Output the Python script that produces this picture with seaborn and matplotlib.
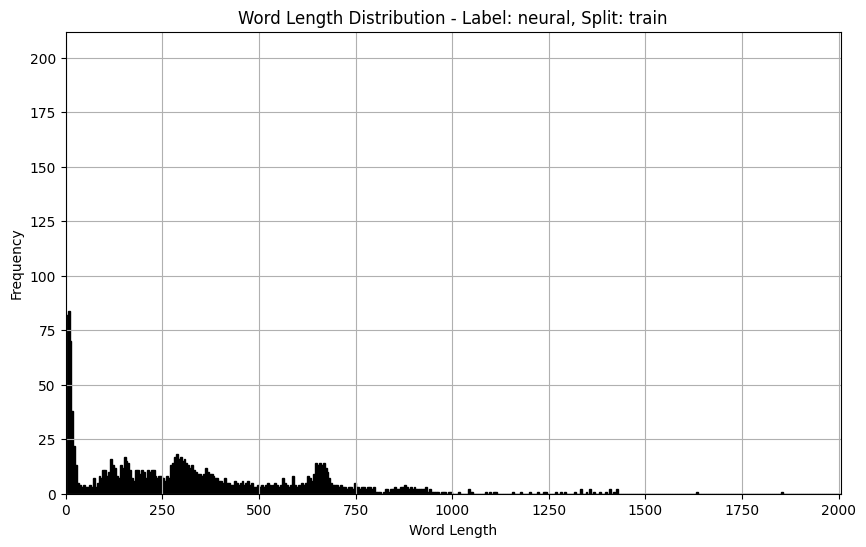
import seaborn as sns
import matplotlib.pyplot as plt
import pandas as pd
import numpy as np

# --- Histogram counts (5-word bins, 0..1000) ---
bin_width = 5
counts_0_100 = [82, 84, 70, 38, 22, 13, 5, 4, 3, 4, 3, 3, 4, 3, 7, 3, 5, 8, 7, 11]
counts_100_200 = [11, 8, 10, 16, 13, 12, 8, 7, 13, 12, 17, 15, 14, 11, 7, 6, 11, 11, 9, 11]
counts_200_300 = [10, 7, 11, 10, 11, 11, 8, 7, 8, 8, 7, 6, 8, 7, 13, 14, 17, 18, 16, 17]
counts_300_400 = [15, 16, 14, 13, 12, 13, 11, 10, 9, 9, 8, 9, 12, 10, 9, 9, 8, 7, 7, 6]
counts_400_500 = [6, 5, 7, 5, 5, 4, 4, 6, 5, 4, 5, 6, 4, 5, 6, 4, 5, 3, 3, 4]
counts_500_600 = [3, 4, 3, 4, 5, 4, 3, 4, 5, 4, 3, 4, 7, 5, 4, 3, 4, 8, 4, 3]
counts_600_700 = [4, 3, 5, 4, 5, 8, 7, 6, 9, 14, 13, 14, 13, 14, 12, 10, 7, 5, 4, 4]
counts_700_800 = [4, 3, 4, 3, 3, 2, 3, 3, 2, 5, 3, 3, 2, 3, 3, 2, 3, 3, 2, 3]
counts_800_900 = [1, 1, 1, 0, 1, 2, 2, 1, 2, 2, 3, 2, 2, 3, 3, 4, 3, 2, 3, 2]
counts_900_1000 = [3, 2, 2, 2, 2, 2, 3, 1, 2, 1, 1, 1, 1, 0, 1, 1, 1, 0, 1, 1]

# sparse long tail (word length, frequency)
tail_lengths = [1015, 1040, 1045, 1050, 1085, 1095, 1105, 1110, 1155, 1178,
                1200, 1222, 1235, 1240, 1265, 1280, 1290, 1315, 1330, 1345,
                1355, 1365, 1383, 1395, 1407, 1418, 1427, 1630, 1850]
tail_counts = [1, 2, 1, 1, 1, 1, 1, 1, 1, 1,
               1, 1, 1, 1, 1, 1, 1, 1, 2, 1,
               2, 1, 1, 1, 2, 1, 2, 1, 1]

head_counts = (counts_0_100 + counts_100_200 + counts_200_300 + counts_300_400
               + counts_400_500 + counts_500_600 + counts_600_700 + counts_700_800
               + counts_800_900 + counts_900_1000)
head_lengths = np.arange(len(head_counts)) * bin_width + bin_width / 2

df = pd.DataFrame({
    "length": np.concatenate([head_lengths, np.array(tail_lengths) + 0.5]),
    "freq": np.concatenate([head_counts, tail_counts]),
})

# --- Plot ---
plt.figure(figsize=(10, 6))
ax = sns.histplot(data=df, x="length", weights="freq",
                  binwidth=bin_width, binrange=(0, 2005),
                  color="black", edgecolor="black", linewidth=1, alpha=1)

ax.set_title("Word Length Distribution - Label: neural, Split: train")
ax.set_xlabel("Word Length")
ax.set_ylabel("Frequency")
ax.set_xlim(0, 2005)
ax.set_ylim(0, 212)
ax.grid(True)

plt.savefig("out.png", dpi=100, bbox_inches="tight")
plt.close()
